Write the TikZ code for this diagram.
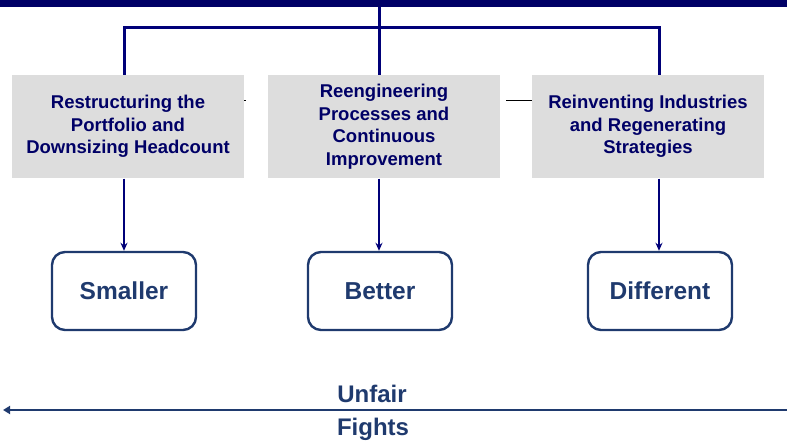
\documentclass[tikz,border=0pt]{standalone}
\usepackage{fontspec}
\setmainfont{Liberation Sans}
\usetikzlibrary{arrows.meta}
\definecolor{navy}{HTML}{000078}
\definecolor{topnavy}{HTML}{000066}
\definecolor{boxgray}{HTML}{DDDDDD}
\definecolor{slate}{HTML}{1F3A6E}
\tikzset{
  graybox/.style={fill=boxgray, draw=none, minimum width=232pt, minimum height=103.5pt, inner sep=0pt,
    align=center, text=topnavy, font=\fontsize{18.5}{22.5}\selectfont\bfseries},
  resbox/.style={draw=slate, line width=2.4pt, rounded corners=13pt, minimum width=144pt, minimum height=78pt,
    inner sep=0pt, text=slate, font=\fontsize{24.5}{28}\selectfont\bfseries},
  bus/.style={draw=navy, line width=3pt},
  arr/.style={draw=navy, line width=2pt, -{Stealth[length=8pt,width=7pt]}},
  bigarr/.style={draw=slate, line width=2.2pt, -{Triangle[length=7pt,width=8pt]}},
  lbl/.style={text=slate, font=\fontsize{24}{28}\selectfont\bfseries, inner sep=0pt},
  thin/.style={draw=black, line width=1pt}
}
\begin{document}
\begin{tikzpicture}[x=1pt,y=-1pt]
\useasboundingbox (0,0) rectangle (787,443);
\node[fill=topnavy, minimum width=787pt, minimum height=7pt, inner sep=0pt, anchor=north west] (topbar) at (0,0) {};
\node[graybox] (b1) at (128,126.75) {Restructuring the\\Portfolio and\\Downsizing Headcount};
\node[graybox] (b2) at (384,126.75) {Reengineering\\Processes and\\Continuous\\Improvement};
\node[graybox] (b3) at (648,126.75) {\raisebox{3pt}{\begin{tabular}{@{}c@{}}Reinventing Industries\\and Regenerating\\Strategies\end{tabular}}};
\coordinate (busL) at (124,27.5);
\coordinate (busR) at (659,27.5);
\coordinate (busM) at (379,27.5);
\draw[bus] (topbar.south -| busM) -- (b2.north -| busM);
\draw[bus] (b1.north -| busL) -- (busL) -- (busR) -- (b3.north -| busR);
\node[resbox] (s1) at (124,291) {Smaller};
\node[resbox] (s2) at (380,291) {Better};
\node[resbox] (s3) at (660,291) {Different};
\draw[arr] (b1.south -| busL) -- (s1.north -| busL);
\draw[arr] (b2.south -| busM) -- (s2.north -| busM);
\draw[arr] (b3.south -| busR) -- (s3.north -| busR);
\coordinate (tk) at (246,101);
\draw[thin] (b1.east |- tk) -- (tk);
\coordinate (ln) at (506,101);
\draw[thin] (ln) -- (b3.west |- ln);
\coordinate (R) at (787,410);
\coordinate (L) at (3,410);
\draw[bigarr] (R) -- (L);
\node[lbl, anchor=base] (unfair) at (372,402.5) {Unfair};
\node[lbl, anchor=base] (fights) at (373,435) {Fights};
\end{tikzpicture}
\end{document}
